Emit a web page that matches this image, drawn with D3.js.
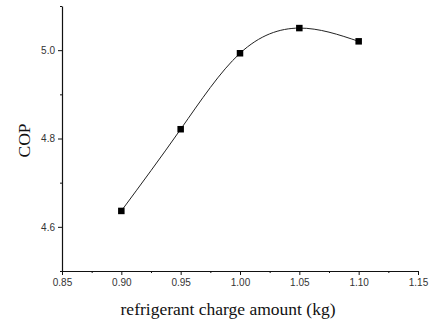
<!DOCTYPE html>
<html>
<head>
<meta charset="utf-8">
<script src="https://cdn.jsdelivr.net/npm/d3@7"></script>
<style>
  html, body { margin: 0; padding: 0; background: #fff; }
  svg { display: block; }
</style>
</head>
<body>
<svg id="chart" width="430" height="322"></svg>
<script>
// Refrigerant charge (kg) vs. coefficient of performance
const charge = [0.90, 0.95, 1.00, 1.05, 1.10];
const cop = [4.636, 4.821, 4.993, 5.050, 5.020];

const xTicks = [0.85, 0.90, 0.95, 1.00, 1.05, 1.10, 1.15];
const xMinorTicks = [0.875, 0.925, 0.975, 1.025, 1.075, 1.125];
const yTicks = [4.6, 4.8, 5.0];
const yMinorTicks = [4.5, 4.7, 4.9, 5.1];

const xTitle = "refrigerant charge amount  (kg)";
const yTitle = "COP";

const svg = d3.select("#chart");
const margin = { left: 62, right: 12, top: 6, bottom: 51 };
const W = 430, H = 322;

const x = d3.scaleLinear().domain([0.85, 1.15]).range([margin.left, W - margin.right]);
const y = d3.scaleLinear().domain([4.5, 5.1]).range([H - margin.bottom, margin.top]);

const tickFont = "Arial, 'Liberation Sans', sans-serif";
const titleFont = "'Times New Roman', 'Liberation Serif', serif";

// bottom axis
const gx = svg.append("g").attr("transform", `translate(0,${H - margin.bottom})`);
gx.call(d3.axisBottom(x).tickValues(xTicks).tickFormat(d3.format(".2f")).tickSize(4).tickSizeOuter(0).tickPadding(4));
gx.append("g").call(d3.axisBottom(x).tickValues(xMinorTicks).tickFormat("").tickSize(2).tickSizeOuter(0))
  .select(".domain").remove();

// left axis
const gy = svg.append("g").attr("transform", `translate(${margin.left},0)`);
gy.call(d3.axisLeft(y).tickValues(yTicks).tickFormat(d3.format(".1f")).tickSize(4).tickSizeOuter(0).tickPadding(3));
gy.append("g").call(d3.axisLeft(y).tickValues(yMinorTicks).tickFormat("").tickSize(2).tickSizeOuter(0))
  .select(".domain").remove();

svg.selectAll(".domain").attr("stroke", "#111").attr("stroke-width", 1.2);
svg.selectAll(".tick line").attr("stroke", "#111").attr("stroke-width", 1);
svg.selectAll(".tick text")
  .attr("font-family", tickFont)
  .attr("font-size", 10)
  .attr("fill", "#333");

// axis titles
svg.append("text")
  .attr("x", 228)
  .attr("y", 315)
  .attr("text-anchor", "middle")
  .attr("font-family", titleFont)
  .attr("font-size", 17.5)
  .attr("fill", "#111")
  .text(xTitle);

svg.append("text")
  .attr("transform", `translate(30,140.5) rotate(-90)`)
  .attr("text-anchor", "middle")
  .attr("font-family", titleFont)
  .attr("font-size", 17.5)
  .attr("fill", "#111")
  .text(yTitle);

// smooth curve through the points
const pts = charge.map((c, i) => [c, cop[i]]);
const line = d3.line().x(d => x(d[0])).y(d => y(d[1])).curve(d3.curveNatural);
svg.append("path")
  .attr("d", line(pts))
  .attr("fill", "none")
  .attr("stroke", "#222")
  .attr("stroke-width", 1);

// square markers
const s = 6.5;
svg.selectAll("rect.pt").data(pts).enter().append("rect")
  .attr("class", "pt")
  .attr("x", d => x(d[0]) - s / 2)
  .attr("y", d => y(d[1]) - s / 2)
  .attr("width", s)
  .attr("height", s)
  .attr("fill", "#000");
</script>
</body>
</html>
